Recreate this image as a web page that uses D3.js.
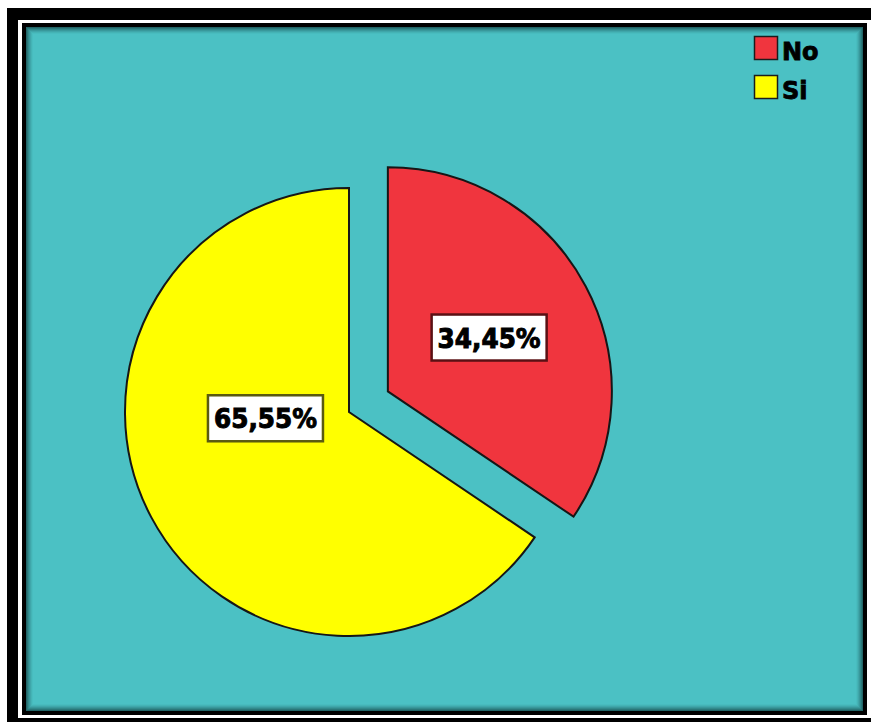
<!DOCTYPE html>
<html>
<head>
<meta charset="utf-8">
<script src="https://cdn.jsdelivr.net/npm/d3@7"></script>
<style>
  html, body { margin: 0; padding: 0; background: #fff; }
  svg { display: block; }
</style>
</head>
<body>
<svg id="chart" width="871" height="722"></svg>
<script>
// data
const categories = ["No", "Si"];
const percents = [34.45, 65.55];
const colours = ["#f0353e", "#ffff00"];
const label_borders = ["#5a1014", "#5a5a10"];

// layout
const PIE_CX = 349;
const PIE_CY = 412;
const RADIUS = 224;
const EXPLODE = [44, 0];
// label anchor: extra angle (deg) from slice bisector, radius fraction
const LABEL_ANCHOR = [{ da: 0, rf: 0.512 }, { da: 23.7, rf: 0.374 }];

let svg = d3.select("#chart");

// Frame: outer black, white gap, inner black, teal panel
svg.append("rect").attr("x", 7).attr("y", 8).attr("width", 900).attr("height", 800).attr("fill", "#000");
svg.append("rect").attr("x", 18).attr("y", 20).attr("width", 900).attr("height", 698).attr("fill", "#fff");
svg.append("rect").attr("x", 22).attr("y", 23).attr("width", 845).attr("height", 692).attr("fill", "#000");

let panel = { x: 26, y: 27, w: 837, h: 684 };
svg.append("rect")
  .attr("x", panel.x).attr("y", panel.y)
  .attr("width", panel.w).attr("height", panel.h)
  .attr("fill", "#4bc1c4");

// Inner shadow along the panel edges
d3.range(7).forEach((i) => {
  svg.append("rect")
    .attr("x", panel.x + i + 0.5).attr("y", panel.y + i + 0.5)
    .attr("width", panel.w - 2 * i - 1).attr("height", panel.h - 2 * i - 1)
    .attr("fill", "none")
    .attr("stroke", "#0b3334")
    .attr("stroke-opacity", 0.65 * Math.pow(1 - i / 7, 1.5));
});

// Pie
let pie = d3.pie().sort(null).value((d) => d);
let arcs = pie(percents);
let arc = d3.arc().innerRadius(0).outerRadius(RADIUS);

let g = svg.append("g").attr("transform", `translate(${PIE_CX},${PIE_CY})`);

arcs.forEach((a, i) => {
  let mid = (a.startAngle + a.endAngle) / 2;
  let ox = Math.sin(mid) * EXPLODE[i];
  let oy = -Math.cos(mid) * EXPLODE[i];
  let sg = g.append("g").attr("transform", `translate(${ox},${oy})`);
  sg.append("path")
    .attr("d", arc(a))
    .attr("fill", colours[i])
    .attr("stroke", "#161616")
    .attr("stroke-width", 2)
    .attr("stroke-linejoin", "miter");

  // Label box
  let la = mid + (LABEL_ANCHOR[i].da * Math.PI) / 180;
  let lr = RADIUS * LABEL_ANCHOR[i].rf;
  let lx = Math.sin(la) * lr;
  let ly = -Math.cos(la) * lr;
  let text = `${percents[i].toFixed(2).replace(".", ",")}%`;
  sg.append("rect")
    .attr("x", lx - 57.5).attr("y", ly - 23)
    .attr("width", 115).attr("height", 46)
    .attr("fill", "#fff")
    .attr("stroke", label_borders[i])
    .attr("stroke-width", 2.5);
  sg.append("text")
    .attr("x", lx).attr("y", ly + 10)
    .attr("text-anchor", "middle")
    .attr("font-family", "'DejaVu Sans', Verdana, sans-serif")
    .attr("font-weight", "bold")
    .attr("font-size", 26)
    .attr("textLength", 103)
    .attr("lengthAdjust", "spacingAndGlyphs")
    .attr("fill", "#000")
    .attr("stroke", "#000")
    .attr("stroke-width", 1)
    .text(text);
});

// Legend
let legend = svg.append("g").attr("transform", "translate(754,36)");
categories.forEach((c, i) => {
  let row = legend.append("g").attr("transform", `translate(0,${i * 39})`);
  row.append("rect")
    .attr("x", 0.5).attr("y", 0.5)
    .attr("width", 23).attr("height", 23)
    .attr("fill", colours[i])
    .attr("stroke", "#1c1c1c")
    .attr("stroke-width", 1.5);
  row.append("text")
    .attr("x", 28).attr("y", 24)
    .attr("font-family", "'DejaVu Sans', Verdana, sans-serif")
    .attr("font-weight", "bold")
    .attr("font-size", 24)
    .attr("fill", "#000")
    .attr("stroke", "#000")
    .attr("stroke-width", 0.8)
    .text(c);
});
</script>
</body>
</html>
